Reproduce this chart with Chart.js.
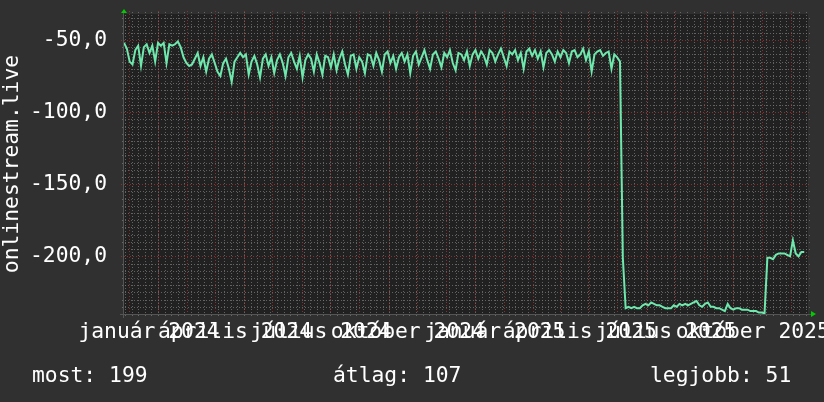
<!DOCTYPE html>
<html><head><meta charset="utf-8">
<script src="https://cdn.jsdelivr.net/npm/chart.js@4"></script>
<style>html,body{margin:0;padding:0;background:#303030;overflow:hidden}#wrap{width:824px;height:402px;position:relative}</style>
</head><body><div id="wrap"><canvas id="c" width="824" height="402"></canvas></div>
<script>
// ---- data ----
const startDate = '2023-11-26';
const endDate = '2025-11-19';
const stepDays = 3;
const rankValues = [
 -52,-56,-65,-67,-57,-54,-68,-55,-53,-59,-54,-65,-52,-54,-52,-66,-53,-54,-53,-51,
 -55,-62,-66,-68,-67,-63,-59,-68,-62,-72,-63,-60,-66,-72,-75,-66,-63,-70,-79,-65,-62,-59,-62,-60,-74,-65,
 -61,-67,-76,-63,-60,-68,-62,-73,-64,-60,
 -66,-75,-62,-59,-65,-70,-61,-76,-64,-60,
 -63,-72,-60,-66,-74,-61,-62,-69,-60,-71,
 -63,-58,-67,-74,-61,-60,-70,-62,-65,-73,
 -60,-61,-68,-59,-64,-72,-60,-58,-66,-61,
 -70,-62,-59,-65,-60,-73,-61,-58,-67,-62,
 -57,-64,-70,-60,-58,-63,-69,-59,-62,-57,
 -66,-71,-59,-60,-64,-58,-68,-60,-57,-63,
 -58,-61,-67,-57,-59,-65,-60,-56,-62,-68,
 -58,-60,-57,-64,-59,-70,-58,-56,-61,-57,
 -63,-58,-69,-59,-57,-60,-65,-58,-62,-57,
 -59,-66,-58,-57,-62,-60,-56,-64,-58,-72,
 -60,-58,-57,-61,-59,-58,-70,-60,-62,-65,
 -201,
 -236,-235,-236,-235,-236,-236,-234,-233,-234,-232,
 -233,-234,-234,-235,-236,-236,-236,-234,-235,-233,
 -234,-233,-234,-233,-232,-231,-234,-235,-233,-232,
 -235,-235,-236,-236,-237,-238,-233,-236,-237,-236,
 -236,-237,-237,-237,-238,-238,-238,-239,-239,-239.5,
 -201,-201,-202,-199,-198,-198,-198,-199,-200,-189,-198,-200,-197,-197
];
const tickDates = ['2024-01-01','2024-04-01','2024-07-01','2024-10-01','2025-01-01','2025-04-01','2025-07-01','2025-10-01'];
const tickLabels = ['január 2024','április 2024','július 2024','október 2024','január 2025','április 2025','július 2025','október 2025'];
const yTicks = [-200,-150,-100,-50];
const yMin = -240, yMax = -32;
const yTitle = 'onlinestream.live';
const summaryLabels = ['most: 199','átlag: 107','legjobb: 51'];

// ---- helpers ----
const DAY = 86400000;
const t0 = Date.parse(startDate + 'T00:00:00Z');
const dayOf = s => (Date.parse(s + 'T00:00:00Z') - t0) / DAY;
const xMaxDay = dayOf(endDate);
const tickDays = tickDates.map(dayOf);
const points = rankValues.map((v, i) => ({x: i * stepDays, y: v}));

const MONO = '"DejaVu Sans Mono", "Liberation Mono", monospace';
const FS = 21.33;

const rrdPlugin = {
  id: 'rrd',
  beforeDraw(chart) {
    const {ctx, chartArea: a} = chart;
    ctx.save();
    ctx.fillStyle = '#303030';
    ctx.fillRect(0, 0, chart.width, chart.height);
    ctx.fillStyle = '#212121';
    ctx.fillRect(a.left, a.top, a.right - a.left, a.bottom - a.top);
    ctx.restore();
  },
  beforeDatasetsDraw(chart) {
    const {ctx, chartArea: a, scales: {x, y}} = chart;
    ctx.save();
    ctx.lineWidth = 1;
    ctx.setLineDash([1, 2]);
    // horizontal minor
    ctx.strokeStyle = 'rgba(120,120,120,0.75)';
    for (let v = -235; v <= yMax; v += 5) {
      if (v % 50 === 0) continue;
      const py = Math.round(y.getPixelForValue(v)) + 0.5;
      ctx.beginPath(); ctx.moveTo(a.left - 2, py); ctx.lineTo(a.right + 2, py); ctx.stroke();
    }
    // vertical minor (weekly, Mondays)
    const dow = new Date(t0).getUTCDay();
    const firstMon = (8 - dow) % 7;
    for (let d = firstMon; d <= xMaxDay; d += 7) {
      const px = Math.round(x.getPixelForValue(d)) + 0.5;
      ctx.beginPath(); ctx.moveTo(px, a.top - 2); ctx.lineTo(px, a.bottom + 2); ctx.stroke();
    }
    // major
    ctx.strokeStyle = 'rgba(150,50,50,0.85)';
    yTicks.forEach(v => {
      const py = Math.round(y.getPixelForValue(v)) + 0.5;
      ctx.beginPath(); ctx.moveTo(a.left - 3, py); ctx.lineTo(a.right + 3, py); ctx.stroke();
    });
    for (let yr = 2023; yr <= 2025; yr++) for (let m = 0; m < 12; m++) {
      const d = (Date.UTC(yr, m, 1) - t0) / DAY;
      if (d < 0 || d > xMaxDay) continue;
      const px = Math.round(x.getPixelForValue(d)) + 0.5;
      ctx.beginPath(); ctx.moveTo(px, a.top - 3); ctx.lineTo(px, a.bottom + 3); ctx.stroke();
    }
    ctx.setLineDash([]);
    // axis lines
    ctx.strokeStyle = '#555555';
    ctx.beginPath(); ctx.moveTo(a.left - 4, a.bottom + 0.5); ctx.lineTo(a.right + 4, a.bottom + 0.5); ctx.stroke();
    ctx.beginPath(); ctx.moveTo(a.left - 0.5, a.bottom + 4); ctx.lineTo(a.left - 0.5, a.top - 4); ctx.stroke();
    ctx.restore();
  },
  afterDraw(chart) {
    const {ctx, chartArea: a} = chart;
    ctx.save();
    ctx.fillStyle = '#00cc00';
    ctx.beginPath(); ctx.moveTo(a.left - 3, a.top - 1); ctx.lineTo(a.left + 3, a.top - 1); ctx.lineTo(a.left, a.top - 5); ctx.closePath(); ctx.fill();
    ctx.beginPath(); ctx.moveTo(a.right + 3, a.bottom - 3); ctx.lineTo(a.right + 3, a.bottom + 3); ctx.lineTo(a.right + 8, a.bottom); ctx.closePath(); ctx.fill();
    ctx.fillStyle = '#ffffff';
    ctx.font = FS + 'px ' + MONO;
    ctx.textBaseline = 'alphabetic';
    ctx.textAlign = 'left';
    const xs = [32, 333, 650];
    summaryLabels.forEach((s, i) => ctx.fillText(s, xs[i], 382));
    ctx.restore();
  }
};

new Chart(document.getElementById('c'), {
  type: 'line',
  data: {
    datasets: [{
      data: points,
      borderColor: '#6fe8ad',
      borderWidth: 2,
      pointRadius: 0,
      tension: 0,
      fill: false
    }]
  },
  options: {
    responsive: false,
    animation: false,
    devicePixelRatio: 1,
    layout: {padding: {top: 14, right: 16, left: 0, bottom: 0}},
    plugins: {legend: {display: false}, tooltip: {enabled: false}},
    scales: {
      x: {
        type: 'linear', min: 0, max: xMaxDay,
        grid: {display: false, drawTicks: false},
        border: {display: false},
        afterBuildTicks: s => { s.ticks = tickDays.map(v => ({value: v})); },
        afterFit: s => { s.height = 88; s.paddingLeft = 0; s.paddingRight = 0; },
        ticks: {
          autoSkip: false, maxRotation: 0, minRotation: 0, padding: 6, labelOffset: -9,
          color: '#ffffff', font: {family: MONO, size: FS},
          callback: (v, i) => tickLabels[i]
        }
      },
      y: {
        type: 'linear', min: yMin, max: yMax,
        grid: {display: false, drawTicks: false},
        border: {display: false},
        afterBuildTicks: s => { s.ticks = yTicks.map(v => ({value: v})); },
        afterFit: s => { s.width = 124; s.paddingTop = 0; s.paddingBottom = 0; },
        ticks: {
          padding: 17, color: '#ffffff', font: {family: MONO, size: FS},
          callback: v => v.toFixed(1).replace('.', ',')
        },
        title: {display: true, text: yTitle, color: '#ffffff', font: {family: MONO, size: FS}, padding: {top: 0, bottom: 0}}
      }
    }
  },
  plugins: [rrdPlugin]
});
</script></body></html>
